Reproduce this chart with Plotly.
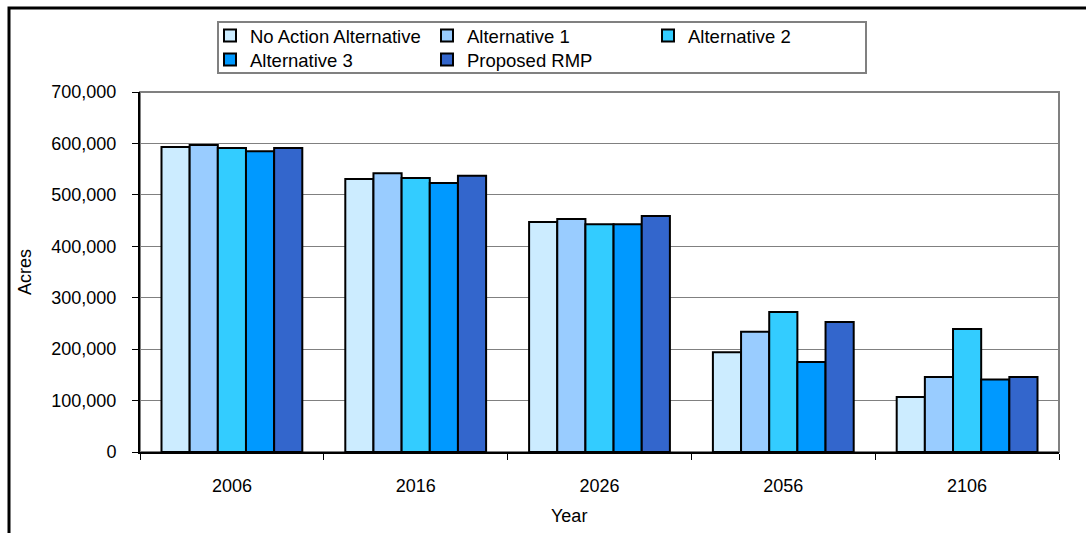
import plotly.graph_objects as go

# Acres by year for each management alternative
years = ["2006", "2016", "2026", "2056", "2106"]
no_action = [593000, 531000, 447000, 194000, 107000]
alt_1 = [597000, 542000, 453000, 234000, 146000]
alt_2 = [591000, 533000, 443000, 272000, 239000]
alt_3 = [585000, 523000, 443000, 175000, 141000]
proposed_rmp = [591000, 537000, 459000, 253000, 146000]

series_names = ["No Action Alternative", "Alternative 1", "Alternative 2",
                "Alternative 3", "Proposed RMP"]
series_values = [no_action, alt_1, alt_2, alt_3, proposed_rmp]
colors = ["#CCECFF", "#99CCFF", "#33CCFF", "#0099FF", "#3366CC"]

W, H = 1086, 533
L, R, T, B = 140, 27, 92, 81
PW, PH = W - L - R, H - T - B


def px_x(x):
    return (x - L) / PW


def px_y(y):
    return (H - B - y) / PH


FONT = "Arial, Liberation Sans, sans-serif"

# legend entry positions (left edge, row centre) in pixels
legend_pos = [(210, 36), (427, 36), (648, 36), (210, 60), (427, 60)]

fig = go.Figure()
for i, (name, vals, col) in enumerate(zip(series_names, series_values, colors)):
    fig.add_trace(go.Bar(
        x=years, y=vals, name=name,
        marker=dict(color=col, line=dict(color="black", width=2)),
        legend="legend" if i == 0 else f"legend{i + 1}",
    ))

legend_common = dict(
    orientation="h", xanchor="left", yanchor="middle",
    bgcolor="rgba(0,0,0,0)", borderwidth=0,
    font=dict(family=FONT, size=18.5, color="black"),
    itemwidth=30,
)
layout_legends = {}
for i, (lx, ly) in enumerate(legend_pos):
    key = "legend" if i == 0 else f"legend{i + 1}"
    layout_legends[key] = dict(x=px_x(lx), y=px_y(ly), **legend_common)

fig.update_layout(
    width=W, height=H,
    margin=dict(l=L, r=R, t=T, b=B, pad=0),
    paper_bgcolor="white", plot_bgcolor="white",
    barmode="group", bargap=0.234, bargroupgap=0,
    font=dict(family=FONT, size=18, color="black"),
    showlegend=True,
    **layout_legends,
)

fig.update_xaxes(
    type="category", showgrid=False,
    showline=True, linecolor="black", linewidth=2,
    ticks="outside", ticklen=6, tickcolor="black", tickwidth=1,
    tickson="boundaries", ticklabelstandoff=16,
    tickfont=dict(family=FONT, size=18, color="black"),
)
fig.update_yaxes(
    range=[0, 700000], dtick=100000, tickformat=",",
    showgrid=True, gridcolor="#808080", gridwidth=1,
    showline=True, linecolor="black", linewidth=2,
    ticks="outside", ticklen=6, tickcolor="black", tickwidth=1,
    ticklabelstandoff=12, zeroline=False,
    tickfont=dict(family=FONT, size=18, color="black"),
)

shapes = [
    # plot area frame
    dict(type="rect", xref="paper", yref="paper", x0=0, x1=1, y0=0, y1=1,
         line=dict(color="#808080", width=2), layer="below"),
    # legend box
    dict(type="rect", xref="paper", yref="paper",
         x0=px_x(218), x1=px_x(866), y0=px_y(73), y1=px_y(22),
         line=dict(color="#808080", width=2), fillcolor="rgba(0,0,0,0)"),
    # outer chart frame
    dict(type="path", xref="paper", yref="paper",
         path=f"M {px_x(9)},{px_y(545)} L {px_x(9)},{px_y(8)} L {px_x(1095)},{px_y(8)}",
         line=dict(color="black", width=3)),
]
fig.update_layout(shapes=shapes)

fig.add_annotation(text="Acres", xref="paper", yref="paper",
                   x=px_x(25), y=px_y(272), xanchor="center", yanchor="middle",
                   textangle=-90, showarrow=False,
                   font=dict(family=FONT, size=18, color="black"))
fig.add_annotation(text="Year", xref="paper", yref="paper",
                   x=px_x(569), y=px_y(516), xanchor="center", yanchor="middle",
                   showarrow=False,
                   font=dict(family=FONT, size=18, color="black"))

fig.write_html("out.html")
